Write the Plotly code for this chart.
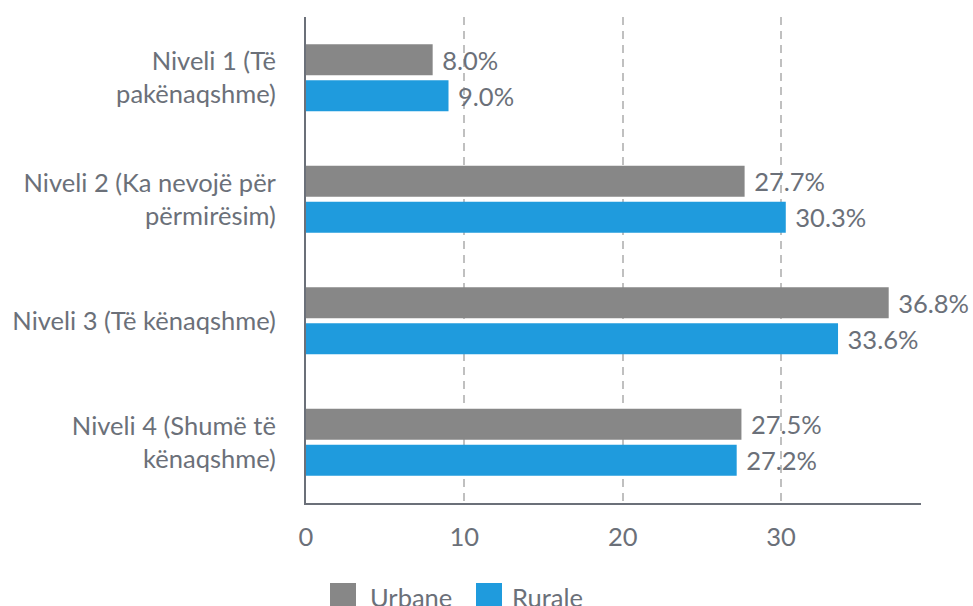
import plotly.graph_objects as go

categories = ["Niveli 1 (Të<br>pakënaqshme)", "Niveli 2 (Ka nevojë për<br>përmirësim)",
              "Niveli 3 (Të kënaqshme)", "Niveli 4 (Shumë të<br>kënaqshme)"]
urbane = [8.0, 27.7, 36.8, 27.5]
rurale = [9.0, 30.3, 33.6, 27.2]
series_names = ["Urbane", "Rurale"]
colors = ["#878787", "#1f9bdd"]
x_ticks = [0, 10, 20, 30]

W, H = 973, 606
L, R, T, B = 306, 921, 17, 503
TXT = "#6b7079"
FONT = "Lato"
FS = 25.5

fig = go.Figure()
for name, vals, col in zip(series_names, [urbane, rurale], colors):
    fig.add_trace(go.Bar(
        y=categories, x=vals, name=name, orientation="h",
        marker=dict(color=col, line=dict(width=0)),
        text=[f"\u00a0{v:.1f}%" for v in vals], textposition="outside",
        textfont=dict(family=FONT, size=FS, color=TXT),
        cliponaxis=False, showlegend=False,
    ))

def px(x):
    return (x - L) / (R - L)

def py(y):
    return (B - y) / (B - T)

shapes = []
annotations = []
leg = [(330, 368), (476, 510)]
for (sx, tx), name, col in zip(leg, series_names, colors):
    shapes.append(dict(type="rect", xref="paper", yref="paper",
                       x0=px(sx), x1=px(sx + 26), y0=py(583), y1=py(609),
                       fillcolor=col, line=dict(width=0)))
    annotations.append(dict(xref="paper", yref="paper", x=px(tx), y=py(580),
                            xanchor="left", yanchor="top", showarrow=False,
                            text=name, font=dict(family=FONT, size=FS, color=TXT)))

fig.update_layout(
    width=W, height=H,
    margin=dict(l=L, r=W - R, t=T, b=H - B, pad=0),
    paper_bgcolor="white", plot_bgcolor="white",
    barmode="group", bargap=0.407, bargroupgap=0.139,
    font=dict(family=FONT, size=FS, color=TXT),
    xaxis=dict(range=[0, 38.84], tickvals=x_ticks, ticktext=[str(t) for t in x_ticks],
               showgrid=True, gridcolor="#c0c0c0", griddash="8px,6px", gridwidth=1.5,
               zeroline=False, showline=True, linecolor="#6b7079", linewidth=2,
               ticks="", tickfont=dict(family=FONT, size=FS, color=TXT), ticklabelstandoff=10),
    yaxis=dict(range=[3.5, -0.5], showgrid=False, zeroline=False,
               showline=True, linecolor="#6b7079", linewidth=2, ticks="",
               tickfont=dict(family=FONT, size=FS, color=TXT), ticklabelstandoff=23),
    shapes=shapes, annotations=annotations,
)
fig.write_html("out.html", config={"displayModeBar": False},
               post_script="document.body.style.margin='0';")
